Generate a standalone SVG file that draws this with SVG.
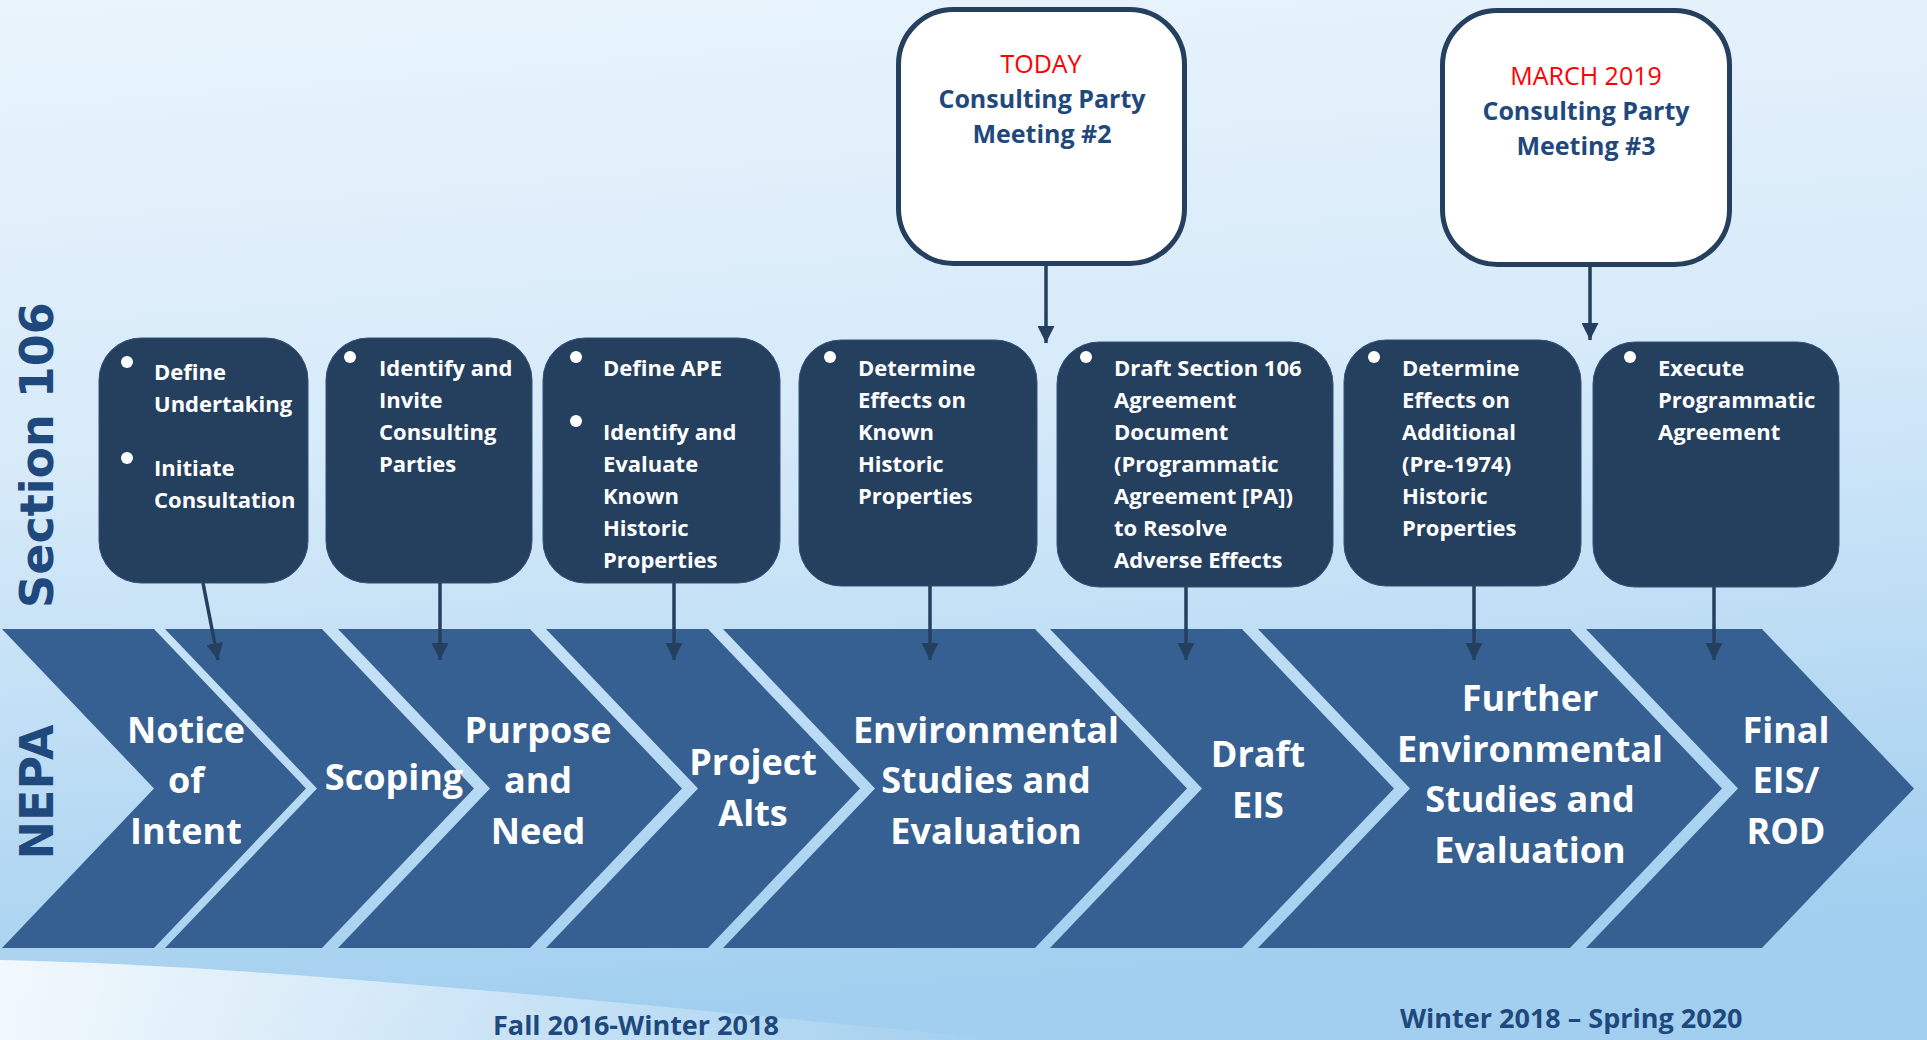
<svg xmlns="http://www.w3.org/2000/svg" width="1927" height="1040" viewBox="0 0 1927 1040">
<style>
.chev{fill:#376092}
.box{fill:#253f5f;stroke:#34507a;stroke-width:1}
.meet{fill:#ffffff;stroke:#253f5f;stroke-width:5}
.btxt{font-family:"Open Sans","Liberation Sans",sans-serif;font-weight:bold;font-size:22px;fill:#ffffff}
.ctxt{font-family:"Open Sans","Liberation Sans",sans-serif;font-weight:bold;font-size:36px;fill:#ffffff;text-anchor:middle}
.mtxt{font-family:"Open Sans","Liberation Sans",sans-serif;font-weight:bold;font-size:25px;fill:#1f497d;text-anchor:middle}
.red{font-family:"Open Sans","Liberation Sans",sans-serif;font-size:25px;fill:#ff0000;text-anchor:middle}
.side{font-family:"DejaVu Sans","Verdana",sans-serif;font-weight:bold;font-size:46px;fill:#1f497d;text-anchor:middle}
.date{font-family:"Open Sans","Liberation Sans",sans-serif;font-weight:bold;font-size:27px;fill:#1f497d}
.dot{fill:#ffffff}
.conn{stroke:#253f5f;stroke-width:3.5;fill:none;marker-end:url(#ah)}
</style>
<defs>
<linearGradient id="bg" x1="0" y1="0" x2="0.15" y2="1">
<stop offset="0" stop-color="#eaf4fc"/>
<stop offset="0.45" stop-color="#d6eaf9"/>
<stop offset="0.7" stop-color="#bfdef5"/>
<stop offset="1" stop-color="#a2cfef"/>
</linearGradient>
<linearGradient id="sw" x1="0" y1="0" x2="1" y2="0">
<stop offset="0" stop-color="#ffffff" stop-opacity="0.85"/>
<stop offset="0.6" stop-color="#ffffff" stop-opacity="0.35"/>
<stop offset="1" stop-color="#ffffff" stop-opacity="0"/>
</linearGradient>
<marker id="ah" markerUnits="userSpaceOnUse" markerWidth="17" markerHeight="17" viewBox="0 0 16 16" refX="16" refY="8" orient="auto">
<path d="M0,0 L16,8 L0,16 Z" fill="#253f5f"/>
</marker>
</defs>
<rect x="0" y="0" width="1927" height="1040" fill="url(#bg)"/>
<path d="M0,960 C250,965 600,1000 1000,1040 L0,1040 Z" fill="url(#sw)"/>

<text class="side" transform="translate(53,455) rotate(-90)">Section 106</text>
<text class="side" transform="translate(53,792) rotate(-90)">NEPA</text>

<g id="nepa">
<g id="c1"><polygon class="chev" points="2,629 154,629 306,788.5 154,948 2,948 154,788.5"/>
<text class="ctxt" x="186"><tspan x="186" y="743">Notice</tspan><tspan x="186" y="793">of</tspan><tspan x="186" y="844">Intent</tspan></text></g>
<g id="c2"><polygon class="chev" points="165,629 322,629 474,788.5 322,948 165,948 317,788.5"/>
<text class="ctxt" x="394" y="790">Scoping</text></g>
<g id="c3"><polygon class="chev" points="338,629 530,629 682,788.5 530,948 338,948 490,788.5"/>
<text class="ctxt"><tspan x="538" y="743">Purpose</tspan><tspan x="538" y="793">and</tspan><tspan x="538" y="844">Need</tspan></text></g>
<g id="c4"><polygon class="chev" points="546,629 708,629 860,788.5 708,948 546,948 698,788.5"/>
<text class="ctxt"><tspan x="753" y="775">Project</tspan><tspan x="753" y="826">Alts</tspan></text></g>
<g id="c5"><polygon class="chev" points="723,629 1035,629 1187,788.5 1035,948 723,948 875,788.5"/>
<text class="ctxt"><tspan x="986" y="743">Environmental</tspan><tspan x="986" y="793">Studies and</tspan><tspan x="986" y="844">Evaluation</tspan></text></g>
<g id="c6"><polygon class="chev" points="1050,629 1242,629 1394,788.5 1242,948 1050,948 1202,788.5"/>
<text class="ctxt"><tspan x="1258" y="767">Draft</tspan><tspan x="1258" y="818">EIS</tspan></text></g>
<g id="c7"><polygon class="chev" points="1258,629 1570,629 1722,788.5 1570,948 1258,948 1410,788.5"/>
<text class="ctxt"><tspan x="1530" y="711">Further</tspan><tspan x="1530" y="762">Environmental</tspan><tspan x="1530" y="812">Studies and</tspan><tspan x="1530" y="863">Evaluation</tspan></text></g>
<g id="c8"><polygon class="chev" points="1586,629 1762,629 1914,788.5 1762,948 1586,948 1738,788.5"/>
<text class="ctxt"><tspan x="1786" y="743">Final</tspan><tspan x="1786" y="793">EIS/</tspan><tspan x="1786" y="844">ROD</tspan></text></g>
</g>

<g id="b1"><rect class="box" x="99" y="338" width="209" height="245" rx="42"/>
<circle class="dot" cx="127" cy="362" r="6"/><circle class="dot" cx="127" cy="458" r="6"/>
<text class="btxt"><tspan x="154" y="380">Define</tspan><tspan x="154" y="412">Undertaking</tspan><tspan x="154" y="476">Initiate</tspan><tspan x="154" y="508">Consultation</tspan></text></g>
<g id="b2"><rect class="box" x="326" y="338" width="206" height="245" rx="42"/>
<circle class="dot" cx="350" cy="357" r="6"/>
<text class="btxt"><tspan x="379" y="376">Identify and</tspan><tspan x="379" y="408">Invite</tspan><tspan x="379" y="440">Consulting</tspan><tspan x="379" y="472">Parties</tspan></text></g>
<g id="b3"><rect class="box" x="543" y="338" width="237" height="245" rx="42"/>
<circle class="dot" cx="576" cy="357" r="6"/><circle class="dot" cx="576" cy="421" r="6"/>
<text class="btxt"><tspan x="603" y="376">Define APE</tspan><tspan x="603" y="440">Identify and</tspan><tspan x="603" y="472">Evaluate</tspan><tspan x="603" y="504">Known</tspan><tspan x="603" y="536">Historic</tspan><tspan x="603" y="568">Properties</tspan></text></g>
<g id="b4"><rect class="box" x="799" y="340" width="238" height="246" rx="42"/>
<circle class="dot" cx="830" cy="357" r="6"/>
<text class="btxt"><tspan x="858" y="376">Determine</tspan><tspan x="858" y="408">Effects on</tspan><tspan x="858" y="440">Known</tspan><tspan x="858" y="472">Historic</tspan><tspan x="858" y="504">Properties</tspan></text></g>
<g id="b5"><rect class="box" x="1057" y="342" width="276" height="245" rx="42"/>
<circle class="dot" cx="1086" cy="357" r="6"/>
<text class="btxt"><tspan x="1114" y="376">Draft Section 106</tspan><tspan x="1114" y="408">Agreement</tspan><tspan x="1114" y="440">Document</tspan><tspan x="1114" y="472">(Programmatic</tspan><tspan x="1114" y="504">Agreement [PA])</tspan><tspan x="1114" y="536">to Resolve</tspan><tspan x="1114" y="568">Adverse Effects</tspan></text></g>
<g id="b6"><rect class="box" x="1344" y="340" width="237" height="246" rx="42"/>
<circle class="dot" cx="1374" cy="357" r="6"/>
<text class="btxt"><tspan x="1402" y="376">Determine</tspan><tspan x="1402" y="408">Effects on</tspan><tspan x="1402" y="440">Additional</tspan><tspan x="1402" y="472">(Pre-1974)</tspan><tspan x="1402" y="504">Historic</tspan><tspan x="1402" y="536">Properties</tspan></text></g>
<g id="b7"><rect class="box" x="1593" y="342" width="246" height="245" rx="42"/>
<circle class="dot" cx="1630" cy="357" r="6"/>
<text class="btxt"><tspan x="1658" y="376">Execute</tspan><tspan x="1658" y="408">Programmatic</tspan><tspan x="1658" y="440">Agreement</tspan></text></g>

<g id="m2"><rect class="meet" x="898.5" y="9.5" width="286" height="254" rx="55"/>
<text class="red" x="1041" y="73">TODAY</text>
<text class="mtxt"><tspan x="1042" y="108">Consulting Party</tspan><tspan x="1042" y="143">Meeting #2</tspan></text></g>
<g id="m3"><rect class="meet" x="1442.5" y="10.5" width="287" height="254" rx="55"/>
<text class="red" x="1586" y="85">MARCH 2019</text>
<text class="mtxt"><tspan x="1586" y="120">Consulting Party</tspan><tspan x="1586" y="155">Meeting #3</tspan></text></g>

<g id="connectors">
<line class="conn" x1="1046" y1="266" x2="1046" y2="343"/>
<line class="conn" x1="1590" y1="266" x2="1590" y2="340"/>
<line class="conn" x1="203" y1="583" x2="218" y2="660"/>
<line class="conn" x1="440" y1="583" x2="440" y2="660"/>
<line class="conn" x1="674" y1="583" x2="674" y2="660"/>
<line class="conn" x1="930" y1="586" x2="930" y2="660"/>
<line class="conn" x1="1186" y1="587" x2="1186" y2="660"/>
<line class="conn" x1="1474" y1="586" x2="1474" y2="660"/>
<line class="conn" x1="1714" y1="587" x2="1714" y2="660"/>
</g>

<text class="date" x="493" y="1035">Fall 2016-Winter 2018</text>
<text class="date" x="1400" y="1028">Winter 2018 – Spring 2020</text>
</svg>
